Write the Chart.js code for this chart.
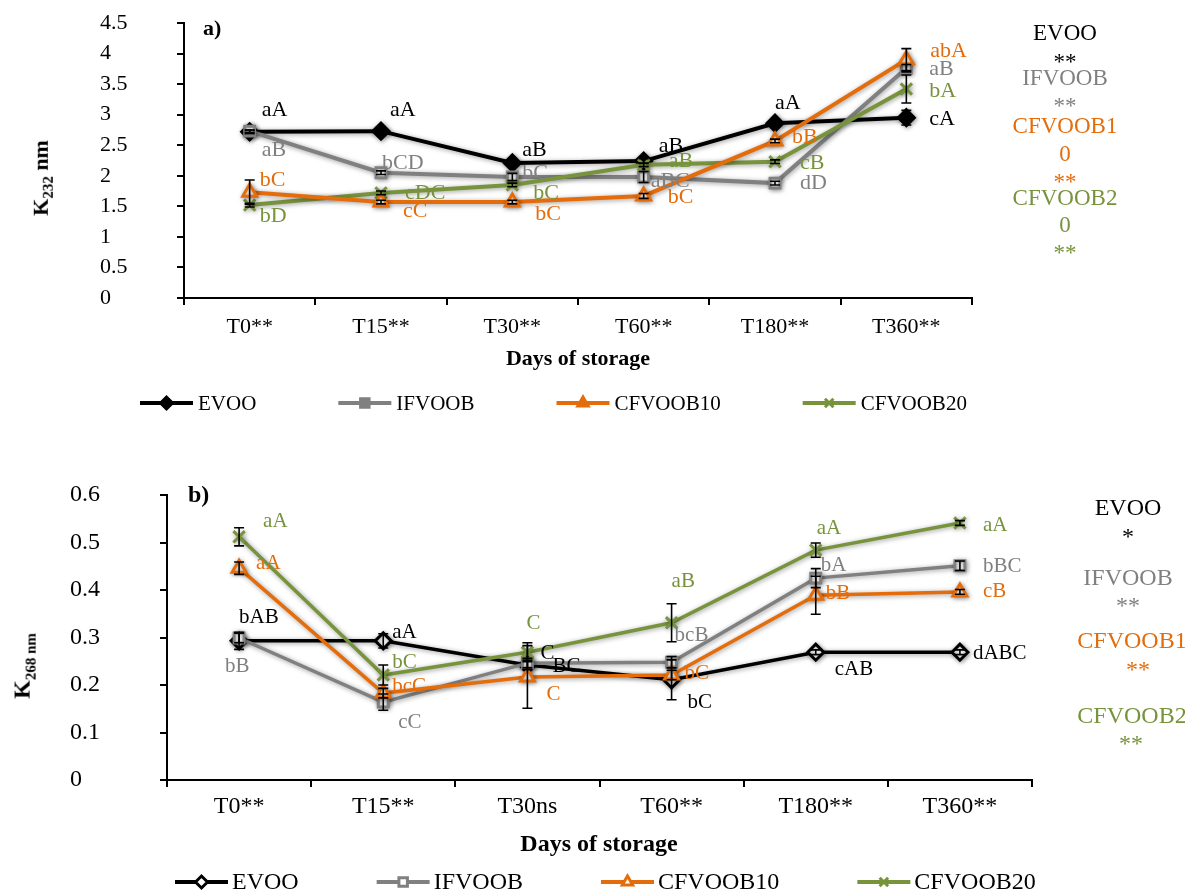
<!DOCTYPE html>
<html>
<head>
<meta charset="utf-8">
<script src="https://cdn.jsdelivr.net/npm/chart.js@4.4.1/dist/chart.umd.min.js"></script>
<style>
  html, body { margin: 0; padding: 0; background: #fff; }
  body { width: 1185px; height: 894px; overflow: hidden; position: relative;
         font-family: 'Liberation Serif', 'Times New Roman', serif; }
  canvas { position: absolute; left: 0; }
  .t { position: absolute; white-space: nowrap; line-height: 1; }
  .ytitle { position: absolute; white-space: nowrap; font-weight: bold; line-height: 1;
            transform: translate(-50%, -50%) rotate(-90deg); }
</style>
</head>
<body>
<canvas id="k232" width="1185" height="440" style="top:0px"></canvas>
<canvas id="k268" width="1185" height="454" style="top:440px"></canvas>

<div class="ytitle" style="left:43px; top:178px; font-size:22px;">K<sub style="font-size:15px">232</sub> nm</div>
<div class="ytitle" style="left:24px; top:666px; font-size:24px;">K<sub style="font-size:15px">268 nm</sub></div>

<script>
// ---- storage days ----
const daysK232 = ['T0**', 'T15**', 'T30**', 'T60**', 'T180**', 'T360**'];
const daysK268 = ['T0**', 'T15**', 'T30ns', 'T60**', 'T180**', 'T360**'];
const oilNames = ['EVOO', 'IFVOOB', 'CFVOOB10', 'CFVOOB20'];

// ---- K232 (means and standard deviations) ----
const k232EVOO     = [2.72, 2.73, 2.21, 2.24, 2.86, 2.95];
const k232IFVOOB   = [2.73, 2.05, 1.98, 1.98, 1.88, 3.76];
const k232CFVOOB10 = [1.73, 1.57, 1.57, 1.67, 2.57, 3.90];
const k232CFVOOB20 = [1.52, 1.72, 1.85, 2.18, 2.23, 3.42];
const k232sdEVOO     = [0.03, 0.07, 0.04, 0.04, 0.04, 0.12];
const k232sdIFVOOB   = [0.02, 0.03, 0.06, 0.09, 0.03, 0.06];
const k232sdCFVOOB10 = [0.20, 0.03, 0.03, 0.04, 0.03, 0.18];
const k232sdCFVOOB20 = [0.03, 0.03, 0.03, 0.03, 0.03, 0.23];

// ---- K268 (means and standard deviations) ----
const k268EVOO     = [0.293, 0.293, 0.242, 0.211, 0.269, 0.269];
const k268IFVOOB   = [0.299, 0.164, 0.246, 0.248, 0.425, 0.451];
const k268CFVOOB10 = [0.446, 0.183, 0.217, 0.221, 0.389, 0.396];
const k268CFVOOB20 = [0.512, 0.221, 0.269, 0.331, 0.484, 0.541];
const k268sdEVOO     = [0.018, 0.015, 0.010, 0.042, 0.005, 0.005];
const k268sdIFVOOB   = [0.010, 0.017, 0.010, 0.012, 0.020, 0.010];
const k268sdCFVOOB10 = [0.013, 0.010, 0.066, 0.010, 0.040, 0.005];
const k268sdCFVOOB20 = [0.019, 0.021, 0.020, 0.040, 0.015, 0.005];

// ---- significance letters ----
const k232LettersEVOO     = ['aA', 'aA', 'aB', 'aB', 'aA', 'cA'];
const k232LettersIFVOOB   = ['aB', 'bCD', 'bC', 'aBC', 'dD', 'aB'];
const k232LettersCFVOOB10 = ['bC', 'cC', 'bC', 'bC', 'bB', 'abA'];
const k232LettersCFVOOB20 = ['bD', 'cDC', 'bC', 'aB', 'cB', 'bA'];
const k268LettersEVOO     = ['bAB', 'aA', 'C', 'bC', 'cAB', 'dABC'];
const k268LettersIFVOOB   = ['bB', 'cC', 'BC', 'bcB', 'bA', 'bBC'];
const k268LettersCFVOOB10 = ['aA', 'bcC', 'C', 'bC', 'bB', 'cB'];
const k268LettersCFVOOB20 = ['aA', 'bC', 'C', 'aB', 'aA', 'aA'];

// ---- styling ----
const FONT = "'Liberation Serif', 'Times New Roman', serif";
const COLORS = { EVOO: '#000000', IFVOOB: '#808080', CFVOOB10: '#E46C0A', CFVOOB20: '#77933C' };
const MARKERS = { EVOO: 'rectRot', IFVOOB: 'rect', CFVOOB10: 'triangle', CFVOOB20: 'crossRot' };
const DRAW_ORDER = { EVOO: 3, IFVOOB: 2, CFVOOB10: 0, CFVOOB20: 1 };

// letter placement relative to each point (px): [dx, dy]
const k232LetterShift = [
  [[12,-22],[9,-21],[10,-13],[15,-15],[0,-20],[23,1]],
  [[12,19],[1,-10],[10,-4],[7,4],[25,0],[23,1]],
  [[10,-12],[22,9],[23,12],[24,1],[17,-4],[24,-8]],
  [[10,11],[24,0],[21,8],[25,-4],[25,1],[23,2]]
];
const k268LetterShift = [
  [[0,-23],[9,-8],[13,-12],[16,23],[19,17],[13,1]],
  [[-14,29],[15,20],[25,3],[3,-27],[5,-13],[23,1]],
  [[17,-5],[9,-7],[19,18],[13,-2],[10,-2],[23,0]],
  [[24,-15],[9,-13],[-1,-29],[0,-41],[1,-22],[23,2]]
];
const k268LetterInk = [null, [null, null, '#000000', null, null, null], null, null];

Chart.defaults.font.family = FONT;
Chart.defaults.color = '#000';

function drawMarker(ctx, style, radius, x, y) {
  if (Chart.helpers && Chart.helpers.drawPoint) {
    Chart.helpers.drawPoint(ctx, { pointStyle: style, radius: radius, borderWidth: ctx.lineWidth, rotation: 0 }, x, y);
    return;
  }
  ctx.beginPath();
  ctx.arc(x, y, radius, 0, Math.PI * 2);
  ctx.fill(); ctx.stroke();
}

// shadows under the series, error bars and letters on top
const seriesDecor = {
  id: 'seriesDecor',
  beforeDatasetsDraw(chart) {
    const ctx = chart.ctx;
    ctx.save();
    ctx.shadowColor = 'rgba(0,0,0,0.4)';
    ctx.shadowBlur = 5;
    ctx.shadowOffsetX = 1;
    ctx.shadowOffsetY = 1;
  },
  afterDatasetsDraw(chart, args, opts) {
    const ctx = chart.ctx;
    ctx.restore();
    const yScale = chart.scales.y;
    // error bars
    ctx.save();
    ctx.strokeStyle = '#000';
    ctx.lineWidth = 1.6;
    chart.data.datasets.forEach((ds, i) => {
      const meta = chart.getDatasetMeta(i);
      meta.data.forEach((pt, j) => {
        const e = ds.sd[j];
        if (!e) return;
        const top = yScale.getPixelForValue(ds.data[j] + e);
        const bot = yScale.getPixelForValue(ds.data[j] - e);
        ctx.beginPath();
        ctx.moveTo(pt.x, top); ctx.lineTo(pt.x, bot);
        ctx.moveTo(pt.x - 5, top); ctx.lineTo(pt.x + 5, top);
        ctx.moveTo(pt.x - 5, bot); ctx.lineTo(pt.x + 5, bot);
        ctx.stroke();
      });
    });
    ctx.restore();
    // significance letters
    ctx.save();
    ctx.font = opts.letterSize + 'px ' + FONT;
    ctx.textAlign = 'left';
    ctx.textBaseline = 'middle';
    chart.data.datasets.forEach((ds, i) => {
      const meta = chart.getDatasetMeta(i);
      meta.data.forEach((pt, j) => {
        const sh = opts.shift[i][j];
        const ink = opts.ink && opts.ink[i] && opts.ink[i][j];
        ctx.fillStyle = ink || ds.borderColor;
        ctx.fillText(ds.letters[j], pt.x + sh[0], pt.y + sh[1]);
      });
    });
    ctx.restore();
  }
};

// series key below the axis title
const seriesKey = {
  id: 'seriesKey',
  afterDraw(chart, args, o) {
    const ctx = chart.ctx;
    ctx.save();
    ctx.font = o.size + 'px ' + FONT;
    ctx.textBaseline = 'middle';
    ctx.textAlign = 'left';
    let x = o.x;
    chart.data.datasets.forEach((ds) => {
      ctx.strokeStyle = ds.borderColor;
      ctx.lineWidth = o.lineWidth;
      ctx.beginPath();
      ctx.moveTo(x, o.y); ctx.lineTo(x + o.sample, o.y);
      ctx.stroke();
      ctx.lineWidth = 3;
      ctx.fillStyle = o.solid ? ds.borderColor : '#fff';
      drawMarker(ctx, ds.pointStyle, o.radius, x + o.sample / 2, o.y);
      ctx.fillStyle = '#000';
      ctx.fillText(ds.label, x + o.sample + o.textGap, o.y + 1);
      x += o.sample + o.textGap + ctx.measureText(ds.label).width + o.gap;
    });
    ctx.restore();
  }
};

function buildDatasets(values, sds, letters, p) {
  return oilNames.map((name, i) => {
    const fill = (name === 'EVOO' && p.solidDiamond) ? COLORS[name] : '#ffffff';
    return {
      label: name,
      data: values[i],
      sd: sds[i],
      letters: letters[i],
      borderColor: COLORS[name],
      backgroundColor: fill,
      borderWidth: p.lineWidth,
      pointStyle: MARKERS[name],
      pointRadius: name === 'IFVOOB' ? p.radius : p.radius + 1,
      pointHoverRadius: p.radius,
      pointBorderWidth: 3,
      pointBackgroundColor: fill,
      pointBorderColor: COLORS[name],
      tension: 0,
      order: DRAW_ORDER[name],
      clip: false
    };
  });
}

function buildChart(id, labels, datasets, p) {
  return new Chart(document.getElementById(id), {
    type: 'line',
    data: { labels: labels, datasets: datasets },
    plugins: [seriesDecor, seriesKey],
    options: {
      responsive: false,
      animation: false,
      events: [],
      layout: { padding: p.padding },
      plugins: {
        legend: { display: false },
        tooltip: { enabled: false },
        seriesDecor: { letterSize: p.letterSize, shift: p.shift, ink: p.ink },
        seriesKey: p.key
      },
      scales: {
        x: {
          type: 'category',
          offset: true,
          grid: { offset: true, drawOnChartArea: false, drawTicks: true, tickLength: 7, color: '#000', lineWidth: 2 },
          border: { color: '#000', width: 2 },
          ticks: { color: '#000', font: { family: FONT, size: p.tickSize }, padding: p.xPad, maxRotation: 0, autoSkip: false },
          afterFit: (s) => { s.height = p.xHeight; }
        },
        y: {
          min: 0,
          max: p.yMax,
          ticks: {
            stepSize: p.step, color: '#000', font: { family: FONT, size: p.tickSize }, crossAlign: 'far',
            callback: (v) => String(Math.round(v * 100) / 100)
          },
          grid: { drawOnChartArea: false, drawTicks: true, tickLength: 7, color: '#000', lineWidth: 2 },
          border: { color: '#000', width: 2 },
          afterFit: (s) => { s.width = p.yWidth; }
        }
      }
    }
  });
}

buildChart('k232', daysK232,
  buildDatasets([k232EVOO, k232IFVOOB, k232CFVOOB10, k232CFVOOB20],
                [k232sdEVOO, k232sdIFVOOB, k232sdCFVOOB10, k232sdCFVOOB20],
                [k232LettersEVOO, k232LettersIFVOOB, k232LettersCFVOOB10, k232LettersCFVOOB20],
                { lineWidth: 4, radius: 7, solidDiamond: true }),
  { padding: { left: 100, right: 213, top: 23, bottom: 0 }, yWidth: 84, xHeight: 142,
    yMax: 4.5, step: 0.5, tickSize: 22, xPad: 9, letterSize: 22,
    shift: k232LetterShift, ink: null,
    key: { x: 140, y: 403, size: 21, sample: 53, textGap: 5, gap: 82, lineWidth: 4, radius: 6, solid: true } });

buildChart('k268', daysK268,
  buildDatasets([k268EVOO, k268IFVOOB, k268CFVOOB10, k268CFVOOB20],
                [k268sdEVOO, k268sdIFVOOB, k268sdCFVOOB10, k268sdCFVOOB20],
                [k268LettersEVOO, k268LettersIFVOOB, k268LettersCFVOOB10, k268LettersCFVOOB20],
                { lineWidth: 3.5, radius: 7, solidDiamond: false }),
  { padding: { left: 70, right: 153, top: 55, bottom: 0 }, yWidth: 97, xHeight: 114,
    yMax: 0.6, step: 0.1, tickSize: 24, xPad: 5, letterSize: 21,
    shift: k268LetterShift, ink: k268LetterInk,
    key: { x: 175, y: 442, size: 24, sample: 53, textGap: 4, gap: 78, lineWidth: 4, radius: 6, solid: false } });

// ---- free text: panel tags, axis titles, significance summary ----
const GRAY = COLORS.IFVOOB, ORANGE = COLORS.CFVOOB10, GREEN = COLORS.CFVOOB20;
function put(text, x, y, size, color, how) {
  const d = document.createElement('div');
  d.className = 't';
  d.textContent = text;
  d.style.fontSize = size + 'px';
  d.style.color = color;
  if (how.bold) d.style.fontWeight = 'bold';
  const lift = how.star ? 0.32 * size : 0.5 * size;
  d.style.top = (y - lift) + 'px';
  d.style.left = x + 'px';
  if (how.center) d.style.transform = 'translateX(-50%)';
  document.body.appendChild(d);
}
put('a)', 203, 28, 22, '#000', { bold: true });
put('b)', 188, 494, 24, '#000', { bold: true });
put('Days of storage', 578, 358, 22, '#000', { bold: true, center: true });
put('Days of storage', 599, 843, 24, '#000', { bold: true, center: true });

[['EVOO', 32, '#000'], ['**', 57, '#000', 1], ['IFVOOB', 77, GRAY], ['**', 101, GRAY, 1],
 ['CFVOOB1', 125, ORANGE], ['0', 153, ORANGE], ['**', 177, ORANGE, 1],
 ['CFVOOB2', 197, GREEN], ['0', 224, GREEN], ['**', 248, GREEN, 1]]
  .forEach(r => put(r[0], 1065, r[1], 23, r[2], { center: true, star: !!r[3] }));

[['EVOO', 1128, 507, '#000'], ['*', 1128, 532, '#000', 1], ['IFVOOB', 1128, 577, GRAY], ['**', 1128, 601, GRAY, 1],
 ['CFVOOB10', 1138, 640, ORANGE], ['**', 1138, 665, ORANGE, 1],
 ['CFVOOB20', 1138, 715, GREEN], ['**', 1131, 739, GREEN, 1]]
  .forEach(r => put(r[0], r[1], r[2], 24, r[3], { center: true, star: !!r[4] }));
</script>
</body>
</html>
